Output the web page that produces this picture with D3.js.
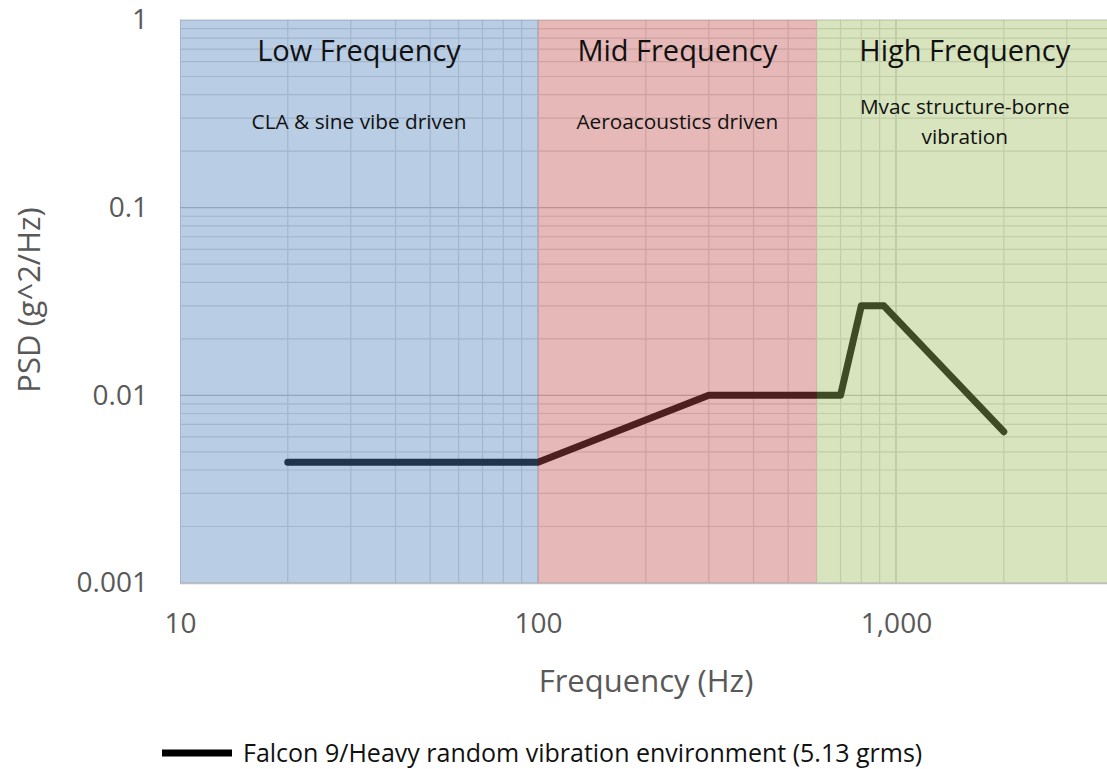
<!DOCTYPE html>
<html><head><meta charset="utf-8">
<script src="https://cdn.jsdelivr.net/npm/d3@7"></script>
<style>
body{margin:0;background:#fff}
svg{display:block}
text{font-family:"Open Sans",Lato,sans-serif}
</style>
</head><body>
<svg id="c" width="1107" height="769"></svg>
<script>
// ---- data ----
const frequency = [20, 100, 300, 700, 800, 925, 2000];
const psd = [0.0044, 0.0044, 0.01, 0.01, 0.03, 0.03, 0.0064];
const regionNames = ["Low Frequency", "Mid Frequency", "High Frequency"];
const regionSubtitles = [["CLA & sine vibe driven"], ["Aeroacoustics driven"], ["Mvac structure-borne", "vibration"]];
const regionStart = [10, 100, 600];
const regionEnd = [100, 600, 10000];
const regionColors = ["#4f81bd", "#c0504d", "#9bbb59"];
const xTickValues = [10, 100, 1000];
const yTickValues = [0.001, 0.01, 0.1, 1];
const seriesName = "Falcon 9/Heavy random vibration environment (5.13 grms)";
const xTitle = "Frequency (Hz)";
const yTitle = "PSD (g^2/Hz)";

// ---- layout ----
const W = 1107, H = 769;
const pLeft = 180, pTop = 20, pBottom = 583, pRight = W;
const x = d3.scaleLog().domain([10, 10000]).range([pLeft, pLeft + 3 * 358]);
const y = d3.scaleLog().domain([0.001, 1]).range([pBottom, pTop]);
const FONT = "'Open Sans',Lato,sans-serif";

const svg = d3.select("#c");
svg.append("defs").append("clipPath").attr("id", "plotclip")
  .append("rect").attr("x", pLeft).attr("y", pTop - 2).attr("width", pRight - pLeft).attr("height", pBottom - pTop + 4);

const plot = svg.append("g").attr("clip-path", "url(#plotclip)");

const isMajor = v => Math.abs(Math.log10(v) - Math.round(Math.log10(v))) < 1e-9;

// grid
plot.append("g").selectAll("line").data(x.ticks()).join("line")
  .attr("x1", d => x(d)).attr("x2", d => x(d)).attr("y1", pTop).attr("y2", pBottom)
  .attr("stroke", d => isMajor(d) ? "#bfbfbf" : "#d9d9d9").attr("stroke-width", 1.2);
plot.append("g").selectAll("line").data(y.ticks()).join("line")
  .attr("y1", d => y(d)).attr("y2", d => y(d)).attr("x1", pLeft).attr("x2", pRight)
  .attr("stroke", d => isMajor(d) ? "#bfbfbf" : "#d9d9d9").attr("stroke-width", 1.2);

// series line
const pts = frequency.map((f, i) => [f, psd[i]]);
plot.append("path").datum(pts)
  .attr("d", d3.line().x(d => x(d[0])).y(d => y(d[1])))
  .attr("fill", "none").attr("stroke", "#000").attr("stroke-width", 7)
  .attr("stroke-linejoin", "round").attr("stroke-linecap", "round");

// region overlays
plot.append("g").selectAll("rect").data(regionStart).join("rect")
  .attr("x", (d) => x(d)).attr("y", pTop)
  .attr("width", (d, i) => x(regionEnd[i]) - x(d)).attr("height", pBottom - pTop)
  .attr("fill", (d, i) => regionColors[i]).attr("fill-opacity", 0.4);

// bottom axis line
svg.append("line").attr("x1", pLeft).attr("x2", pRight).attr("y1", pBottom + 0.5).attr("y2", pBottom + 0.5)
  .attr("stroke", "#bfbfbf").attr("stroke-width", 1.5);

// region labels
const cx = i => (x(regionStart[i]) + Math.min(x(regionEnd[i]), pRight)) / 2 + (i === 2 ? 3 : 0);
svg.append("g").selectAll("text").data(regionNames).join("text")
  .attr("x", (d, i) => cx(i)).attr("y", 61).attr("text-anchor", "middle")
  .attr("font-size", 29).attr("fill", "#111").text(d => d);
regionSubtitles.forEach((lines, i) => {
  const y0 = lines.length > 1 ? 114 : 129;
  lines.forEach((t, j) => {
    svg.append("text").attr("x", cx(i)).attr("y", y0 + j * 30).attr("text-anchor", "middle")
      .attr("font-size", 20.8).attr("fill", "#111").text(t);
  });
});

// axes
const xAxis = d3.axisBottom(x).tickValues(xTickValues).tickFormat(d3.format(",")).tickSize(0).tickPadding(0);
const gx = svg.append("g").attr("transform", `translate(0,${pBottom + 30})`).call(xAxis);
gx.select(".domain").remove();
gx.selectAll("text").attr("font-size", 28).attr("fill", "#595959").attr("font-family", FONT);

const yAxis = d3.axisLeft(y).tickValues(yTickValues).tickFormat(d => String(d)).tickSize(0).tickPadding(0);
const gy = svg.append("g").attr("transform", `translate(${pLeft - 32},0)`).call(yAxis);
gy.select(".domain").remove();
gy.selectAll("text").attr("font-size", 28).attr("fill", "#595959").attr("font-family", FONT);

svg.append("text").attr("x", 646).attr("y", 692).attr("text-anchor", "middle")
  .attr("font-size", 31).attr("fill", "#595959").text(xTitle);
svg.append("text").attr("transform", `translate(40,${300}) rotate(-90)`).attr("text-anchor", "middle")
  .attr("font-size", 31).attr("fill", "#595959").text(yTitle);

// legend
const lg = svg.append("g");
lg.append("line").attr("x1", 162).attr("x2", 232).attr("y1", 753).attr("y2", 753)
  .attr("stroke", "#000").attr("stroke-width", 7);
lg.append("text").attr("x", 243).attr("y", 762).attr("font-size", 25).attr("fill", "#111").text(seriesName);
</script>
</body></html>
